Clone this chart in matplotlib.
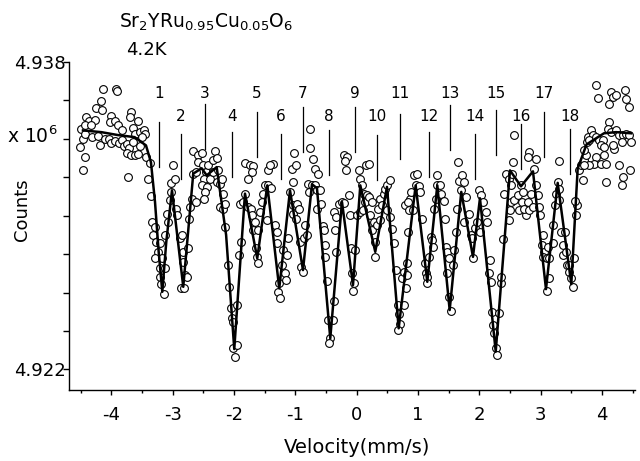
import matplotlib
matplotlib.use("Agg")
import matplotlib.pyplot as plt
from matplotlib.ticker import FixedLocator, MultipleLocator, FixedFormatter

plt.rcParams['font.family'] = ['DejaVu Sans']
plt.rcParams['mathtext.fontset'] = 'dejavusans'
plt.rcParams['axes.unicode_minus'] = False

# ---------------- measured spectrum (velocity in mm/s, counts in 10^6) ----------------
vel_a = [-4.139, -3.922, -3.905, -4.166, -4.248, -4.160, -4.411, -4.372, -4.264, -4.013,
         -4.020, -3.948, -3.677, -3.698, -3.568, -3.894, -3.829, -4.493, -4.427, -4.330,
         -4.465, -4.430, -4.318, -4.220, -4.192, -4.111, -4.046, -4.013, -3.948, -3.883,
         -3.829, -3.801, -3.742, -3.719, -3.649, -3.622, -3.540, -3.470, -3.449, -3.502,
         -3.540, -3.742, -3.687, -3.622, -3.568, -3.649, -4.519, -4.437, -4.465, -3.731,
         -3.432, -3.377, -3.405, -3.361, -3.339, -3.285, -3.323, -3.269, -3.214, -3.241,
         -3.295, -3.176, -3.214, -3.132, -3.210, -3.197, -3.144, -3.122, -3.078, -3.090,
         -3.051, -3.024, -3.034, -2.969, -2.992, -2.943, -2.927, -2.887, -2.861]
cnt_a = [4.93657, 4.93661, 4.93648, 4.93595, 4.93562, 4.93548, 4.93513, 4.93492, 4.93500, 4.93518,
         4.93487, 4.93492, 4.93539, 4.93513, 4.93492, 4.93470, 4.93444, 4.93453, 4.93470, 4.93470,
         4.93401, 4.93427, 4.93409, 4.93415, 4.93370, 4.93397, 4.93401, 4.93380, 4.93387, 4.93380,
         4.93392, 4.93363, 4.93375, 4.93352, 4.93456, 4.93427, 4.93435, 4.93444, 4.93427, 4.93409,
         4.93363, 4.93328, 4.93314, 4.93318, 4.93323, 4.93383, 4.93357, 4.93305, 4.93236, 4.93202,
         4.93305, 4.93276, 4.93193, 4.93103, 4.92968, 4.92942, 4.92899, 4.92864, 4.92856, 4.92812,
         4.92778, 4.92781, 4.92726, 4.92729, 4.92679, 4.92643, 4.92591, 4.92899, 4.92968, 4.93011,
         4.93081, 4.93124, 4.93172, 4.93190, 4.93262, 4.93037, 4.93003, 4.92882, 4.92622]

vel_b = [-2.855, -2.829, -2.838, -2.801, -2.817, -2.773, -2.747, -2.731, -2.719, -2.692,
         -2.622, -2.666, -2.622, -2.666, -2.584, -2.529, -2.584, -2.512, -2.458, -2.491,
         -2.529, -2.447, -2.475, -2.491, -2.393, -2.421, -2.349, -2.312, -2.284, -2.339,
         -2.258, -2.284, -2.230, -2.186, -2.230, -2.176, -2.148, -2.202, -2.148, -2.095,
         -2.078, -2.055, -2.039, -2.023, -2.013, -1.985, -1.958, -1.948, -1.915, -1.887,
         -1.904, -1.860, -1.822, -1.768, -1.729, -1.713, -1.822, -1.741, -1.687, -1.713,
         -1.768, -1.659, -1.687, -1.605, -1.643, -1.622, -1.605, -1.577, -1.550, -1.524,
         -1.496, -1.442, -1.403, -1.458, -1.442, -1.370, -1.414, -1.333, -1.305, -1.295,
         -1.263, -1.279, -1.251, -1.223, -1.197, -1.170, -1.153, -1.142, -1.116, -1.088,
         -1.060, -1.023, -1.044, -1.044, -1.034]
cnt_b = [4.92899, 4.92812, 4.92760, 4.92691, 4.92622, 4.92682, 4.92830, 4.92985, 4.93046, 4.93089,
         4.93072, 4.93219, 4.93228, 4.93335, 4.93314, 4.93328, 4.93279, 4.93266, 4.93228, 4.93193,
         4.93158, 4.93150, 4.93124, 4.93089, 4.93193, 4.93262, 4.93288, 4.93335, 4.93300, 4.93228,
         4.93236, 4.93176, 4.93167, 4.93115, 4.93046, 4.93037, 4.93063, 4.93193, 4.92942, 4.92743,
         4.92630, 4.92518, 4.92466, 4.92448, 4.92310, 4.92267, 4.92327, 4.92535, 4.92795, 4.92864,
         4.93063, 4.93072, 4.93115, 4.93046, 4.93037, 4.93003, 4.93276, 4.93266, 4.93259, 4.93228,
         4.93193, 4.92968, 4.92925, 4.92925, 4.92830, 4.92786, 4.92752, 4.93020, 4.93072, 4.93115,
         4.93158, 4.93158, 4.93144, 4.92977, 4.93236, 4.93271, 4.93262, 4.92951, 4.92916, 4.92856,
         4.92648, 4.92604, 4.92573, 4.92743, 4.92821, 4.92700, 4.92665, 4.92795, 4.92882, 4.93124,
         4.93245, 4.93328, 4.93176, 4.93055, 4.93011]

vel_c = [-0.990, -0.974, -0.936, -0.990, -0.920, -0.865, -0.839, -0.811, -0.904, -0.876,
         -0.783, -0.794, -0.729, -0.685, -0.648, -0.594, -0.757, -0.757, -0.718, -0.685,
         -0.631, -0.648, -0.577, -0.555, -0.538, -0.522, -0.512, -0.485, -0.468, -0.431,
         -0.447, -0.392, -0.375, -0.338, -0.359, -0.375, -0.333, -0.294, -0.240, -0.212,
         -0.131, -0.212, -0.158, -0.186, -0.175, -0.104, -0.088, -0.033, -0.077, -0.049,
         -0.060, 0.005, 0.059, 0.098, 0.042, 0.059, 0.086, 0.114, 0.131, 0.152,
         0.196, 0.168, 0.206, 0.250, 0.222, 0.277, 0.250, 0.331, 0.294, 0.303,
         0.385, 0.347, 0.385, 0.413, 0.440, 0.467, 0.494, 0.494, 0.548, 0.548,
         0.576, 0.604, 0.641, 0.674, 0.695, 0.711, 0.674, 0.739, 0.767, 0.793]
cnt_c = [4.93262, 4.93063, 4.93037, 4.92985, 4.92864, 4.92882, 4.92951, 4.92899, 4.92734, 4.92708,
         4.93124, 4.93167, 4.93158, 4.93158, 4.93132, 4.93132, 4.93453, 4.93352, 4.93294, 4.93242,
         4.93219, 4.93037, 4.93063, 4.92947, 4.92925, 4.92847, 4.92786, 4.92660, 4.92457, 4.92362,
         4.92336, 4.92457, 4.92556, 4.92812, 4.92925, 4.93020, 4.92994, 4.93063, 4.93072, 4.93066,
         4.93106, 4.93314, 4.93305, 4.93283, 4.93236, 4.93003, 4.92830, 4.92821, 4.92700, 4.92648,
         4.92608, 4.93003, 4.93020, 4.93029, 4.93236, 4.93193, 4.93158, 4.93115, 4.93072, 4.93262,
         4.93271, 4.93106, 4.93098, 4.93072, 4.93003, 4.92968, 4.92925, 4.92951, 4.92864, 4.92786,
         4.92977, 4.93037, 4.93089, 4.93055, 4.93115, 4.93141, 4.93029, 4.93158, 4.93184, 4.92994,
         4.92933, 4.92856, 4.92717, 4.92535, 4.92487, 4.92435, 4.92405, 4.92674, 4.92708, 4.93055]

vel_d = [0.772, 0.799, 0.816, 0.825, 0.837, 0.853, 0.870, 0.837, 0.891, 0.923,
         0.935, 0.979, 0.962, 1.016, 1.033, 1.070, 1.109, 1.126, 1.142, 1.142,
         1.179, 1.207, 1.233, 1.250, 1.261, 1.289, 1.305, 1.315, 1.359, 1.380,
         1.424, 1.436, 1.452, 1.478, 1.506, 1.478, 1.506, 1.533, 1.587, 1.576,
         1.615, 1.631, 1.653, 1.669, 1.723, 1.750, 1.697, 1.778, 1.750, 1.832,
         1.860, 1.886, 1.902, 1.925, 1.967, 1.995, 2.033, 2.011, 2.065, 2.104,
         2.121, 2.175, 2.158, 2.196, 2.212, 2.228, 2.240, 2.268, 2.294, 2.321,
         2.349, 2.359, 2.392, 2.403, 2.431, 2.485, 2.538, 2.555, 2.512, 2.522,
         2.566, 2.501, 2.485, 2.566]
cnt_d = [4.92535, 4.92622, 4.92691, 4.92752, 4.92916, 4.93029, 4.93089, 4.93072, 4.93124, 4.93029,
         4.93210, 4.93219, 4.93158, 4.93155, 4.93124, 4.92985, 4.92752, 4.92700, 4.92682, 4.92648,
         4.92786, 4.92890, 4.92873, 4.92838, 4.93037, 4.93089, 4.93158, 4.93210, 4.93162, 4.93115,
         4.93075, 4.92985, 4.92835, 4.92812, 4.92778, 4.92700, 4.92578, 4.92504, 4.92821, 4.92743,
         4.92916, 4.93037, 4.93279, 4.93179, 4.93210, 4.93176, 4.93132, 4.93098, 4.92968, 4.93011,
         4.92899, 4.92882, 4.92781, 4.92937, 4.92968, 4.93132, 4.93106, 4.92916, 4.93072, 4.93020,
         4.92968, 4.92769, 4.92700, 4.92656, 4.92497, 4.92431, 4.92388, 4.92310, 4.92275, 4.92492,
         4.92648, 4.92682, 4.92878, 4.93115, 4.93219, 4.93193, 4.93219, 4.93279, 4.93158, 4.93072,
         4.93081, 4.93029, 4.92977, 4.93418]

vel_e = [2.680, 2.626, 2.708, 2.697, 2.643, 2.762, 2.734, 2.790, 2.843, 2.816,
         2.871, 2.816, 2.790, 2.925, 2.897, 2.925, 2.953, 2.979, 2.990, 3.034,
         3.023, 3.060, 3.034, 3.116, 3.100, 3.142, 3.142, 3.100, 3.197, 3.207,
         3.240, 3.251, 3.279, 3.295, 3.295, 3.305, 3.333, 3.361, 3.403, 3.370,
         3.414, 3.426, 3.468, 3.468, 3.496, 3.524, 3.550, 3.577, 3.589, 3.566,
         3.622, 3.687, 3.659, 3.713, 3.741, 3.713, 3.752, 3.768, 3.822, 3.850,
         3.794, 3.904, 3.948, 4.023, 3.985, 4.039, 3.904, 3.876, 3.794, 3.713,
         3.985, 4.067, 4.039, 4.121, 4.095, 4.148, 4.230, 4.284, 4.339, 4.393,
         4.447, 4.475, 4.328, 4.202, 4.176, 4.284, 4.458, 4.067, 4.339, 4.328,
         3.904, 3.931, 4.148, 4.176, 4.230, 4.382, 4.393, 4.437, 4.121]
cnt_e = [4.93158, 4.93106, 4.93124, 4.93072, 4.93029, 4.93003, 4.93037, 4.93072, 4.93115, 4.93029,
         4.93046, 4.93331, 4.93305, 4.93297, 4.93245, 4.93158, 4.93106, 4.93046, 4.93003, 4.92899,
         4.92847, 4.92812, 4.92786, 4.92838, 4.92778, 4.92781, 4.92674, 4.92608, 4.92856, 4.92951,
         4.93055, 4.93115, 4.93176, 4.93141, 4.93283, 4.93081, 4.92916, 4.92847, 4.92913, 4.92795,
         4.92812, 4.92743, 4.92743, 4.92708, 4.92674, 4.92630, 4.92778, 4.93003, 4.93055, 4.93075,
         4.93236, 4.93184, 4.93262, 4.93288, 4.93314, 4.93340, 4.93383, 4.93409, 4.93444, 4.93418,
         4.93392, 4.93409, 4.93392, 4.93392, 4.93366, 4.93357, 4.93305, 4.93271, 4.93262, 4.93262,
         4.93271, 4.93271, 4.93314, 4.93487, 4.93453, 4.93435, 4.93444, 4.93418, 4.93418, 4.93427,
         4.93422, 4.93383, 4.93383, 4.93349, 4.93366, 4.93262, 4.93236, 4.93176, 4.93202, 4.93158,
         4.93678, 4.93612, 4.93643, 4.93617, 4.93626, 4.93652, 4.93609, 4.93565, 4.93583]

velocity = vel_a + vel_b + vel_c + vel_d + vel_e
counts = cnt_a + cnt_b + cnt_c + cnt_d + cnt_e

# ---------------- fitted curve ----------------
fit_velocity = [-4.465, -4.166, -3.90, -3.622, -3.437, -3.356, -3.290, -3.230, -3.171, -3.106,
                -3.013, -2.829, -2.666, -2.529, -2.447, -2.284, -2.13, -1.997, -1.822, -1.622,
                -1.458, -1.263, -1.088, -0.876, -0.729, -0.648, -0.431, -0.240, -0.060, 0.059,
                0.303, 0.494, 0.685, 0.962, 1.152, 1.315, 1.517, 1.706, 1.897, 2.011,
                2.268, 2.501, 2.680, 2.876, 3.088, 3.279, 3.501, 3.605, 3.749, 4.034,
                4.230, 4.475]
fit_counts = [4.93444, 4.93435, 4.93420, 4.93409, 4.93366, 4.93278, 4.93072, 4.92812, 4.92604, 4.92864,
              4.93132, 4.92630, 4.93219, 4.93247, 4.93210, 4.93253, 4.92900, 4.92306, 4.93115, 4.92778,
              4.93158, 4.92622, 4.93132, 4.92717, 4.93164, 4.93143, 4.92362, 4.93072, 4.92639, 4.93158,
              4.92812, 4.93150, 4.92414, 4.93158, 4.92656, 4.93158, 4.92509, 4.93124, 4.92786, 4.93091,
              4.92293, 4.93236, 4.93153, 4.93231, 4.92618, 4.93171, 4.92644, 4.93245, 4.93371, 4.93429,
              4.93435, 4.93429]

# ---------------- numbered line markers ----------------
line_labels = [str(i) for i in range(1, 19)]
line_velocity = [-3.225, -2.866, -2.475, -2.034, -1.626, -1.235, -0.876, -0.452, -0.028,
                 0.331, 0.706, 1.179, 1.522, 1.929, 2.272, 2.680, 3.055, 3.480]
line_top = [4.93487, 4.93423, 4.93583, 4.93435, 4.93539, 4.93427, 4.93565, 4.93444, 4.93565,
            4.93418, 4.93531, 4.93435, 4.93574, 4.93423, 4.93548, 4.93479, 4.93539, 4.93453]
line_length = 0.00234
label_level_odd = 4.93638
label_level_even = 4.93515

y_ticks = [4.922, 4.924, 4.926, 4.928, 4.930, 4.932, 4.934, 4.936, 4.938]
y_ticklabels = ['4.922', '', '', '', '', '', '', '', '4.938']
x_ticks = [-4, -3, -2, -1, 0, 1, 2, 3, 4]

fig = plt.figure(figsize=(6.4, 4.61), dpi=100)
ax = fig.add_axes([0.1078, 0.154, 0.8839, 0.7115])

ax.plot(velocity, counts, ls='none', marker='o', ms=5.6, mfc='white', mec='black',
        mew=0.8, zorder=2)
ax.plot(fit_velocity, fit_counts, color='black', lw=1.8, zorder=3)

for i, (v, top) in enumerate(zip(line_velocity, line_top)):
    ax.plot([v, v], [top, top - line_length], color='black', lw=0.9, zorder=4)
    ly = label_level_odd if i % 2 == 0 else label_level_even
    ax.text(v, ly, line_labels[i], ha='center', va='center', fontsize=11)

ax.set_xlim(-4.693, 4.535)
ax.set_ylim(4.92093, 4.9380)

for s in ('top', 'right'):
    ax.spines[s].set_visible(False)
for s in ('left', 'bottom'):
    ax.spines[s].set_linewidth(1.0)

ax.xaxis.set_major_locator(FixedLocator(x_ticks))
ax.xaxis.set_minor_locator(MultipleLocator(0.5))
ax.yaxis.set_major_locator(FixedLocator(y_ticks))
ax.yaxis.set_major_formatter(FixedFormatter(y_ticklabels))
ax.tick_params(axis='x', which='major', direction='out', length=3.6, width=1.0,
               labelsize=13, pad=8)
ax.tick_params(axis='x', which='minor', direction='out', length=2.0, width=1.0)
ax.tick_params(axis='y', which='major', direction='out', length=4.5, width=1.0,
               labelsize=13, pad=-2)

fig.text(357 / 640, 1 - 447 / 461, 'Velocity(mm/s)', ha='center', va='center', fontsize=14)
fig.text(22 / 640, 1 - 210 / 461, 'Counts', ha='center', va='center', rotation=90, fontsize=13)
fig.text(32 / 640, 1 - 136 / 461, r'x 10$^{6}$', ha='center', va='center', fontsize=13.5)
fig.text(206 / 640, 1 - 22 / 461,
         r'Sr$_{2}$YRu$_{0.95}$Cu$_{0.05}$O$_{6}$', ha='center', va='center', fontsize=13.5)
fig.text(146 / 640, 1 - 50 / 461, '4.2K', ha='center', va='center', fontsize=13)

fig.savefig('out.png', dpi=100)
